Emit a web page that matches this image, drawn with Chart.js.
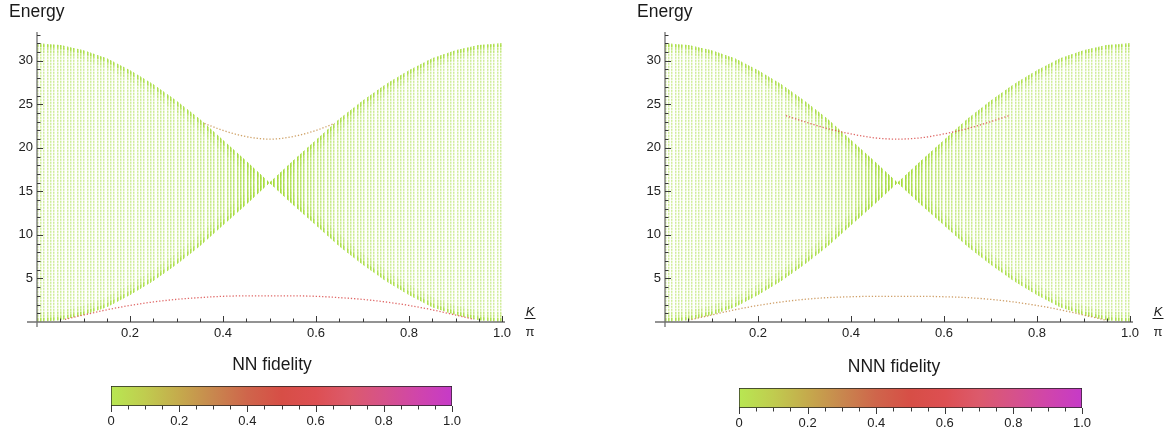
<!DOCTYPE html>
<html>
<head>
<meta charset="utf-8">
<script src="https://cdn.jsdelivr.net/npm/chart.js@4.4.1/dist/chart.umd.min.js"></script>
<style>
    html, body { margin: 0; padding: 0; background: #fff; }
    body { width: 1173px; height: 437px; position: relative; overflow: hidden; }
    .panel { position: absolute; }
</style>
</head>
<body>
<div class="panel" style="left:0;top:0"><canvas id="nn-spectrum" width="560" height="350"></canvas></div>
<div class="panel" style="left:628px;top:0"><canvas id="nnn-spectrum" width="545" height="350"></canvas></div>
<div class="panel" style="left:90px;top:350px"><canvas id="nn-scale" width="400" height="87"></canvas></div>
<div class="panel" style="left:718px;top:352px"><canvas id="nnn-scale" width="400" height="87"></canvas></div>
<script>
// Two-magnon spectrum: scattering continuum plus bound-state branches, E vs K/pi.
const kGrid = [0, 0.05, 0.1, 0.15, 0.2, 0.25, 0.3, 0.35, 0.4, 0.45, 0.5,
    0.55, 0.6, 0.65, 0.7, 0.75, 0.8, 0.85, 0.9, 0.95, 1];
const bandTop = [32, 31.8, 31.2, 30.3, 28.9, 27.3, 25.4, 23.3, 20.9, 18.5, 16,
    18.5, 20.9, 23.3, 25.4, 27.3, 28.9, 30.3, 31.2, 31.8, 32];
const bandBottom = [0, 0.2, 0.8, 1.7, 3.1, 4.7, 6.6, 8.7, 11.1, 13.5, 16,
    13.5, 11.1, 8.7, 6.6, 4.7, 3.1, 1.7, 0.8, 0.2, 0];

// bound states, nearest-neighbour model
const nnUpperK = [0.36, 0.4, 0.44, 0.48, 0.5, 0.52, 0.56, 0.6, 0.64];
const nnUpperE = [22.8, 22.0, 21.4, 21.05, 21.0, 21.05, 21.4, 22.0, 22.8];
const nnLowerK = [0.06, 0.1, 0.15, 0.2, 0.25, 0.3, 0.35, 0.4, 0.45, 0.5,
    0.55, 0.6, 0.65, 0.7, 0.75, 0.8, 0.85, 0.9, 0.94];
const nnLowerE = [0.3, 0.8, 1.4, 1.9, 2.3, 2.6, 2.8, 2.95, 3.0, 3.0,
    3.0, 2.95, 2.8, 2.6, 2.3, 1.9, 1.4, 0.8, 0.3];

// bound states, next-nearest-neighbour model
const nnnUpperK = [0.26, 0.3, 0.35, 0.4, 0.45, 0.5, 0.55, 0.6, 0.65, 0.7, 0.74];
const nnnUpperE = [23.7, 23.0, 22.2, 21.6, 21.15, 21.0, 21.15, 21.6, 22.2, 23.0, 23.7];
const nnnLowerK = [0.05, 0.1, 0.15, 0.2, 0.25, 0.3, 0.35, 0.4, 0.45, 0.5,
    0.55, 0.6, 0.65, 0.7, 0.75, 0.8, 0.85, 0.9, 0.95];
const nnnLowerE = [0.2, 0.8, 1.4, 1.9, 2.3, 2.6, 2.8, 2.9, 2.95, 2.95,
    2.95, 2.9, 2.8, 2.6, 2.3, 1.9, 1.4, 0.8, 0.2];

// fidelity carried by each bound-state branch
const nnUpperFidelity = 0.27;
const nnLowerFidelity = 0.56;
const nnnUpperFidelity = 0.54;
const nnnLowerFidelity = 0.28;

const xTickValues = [0.2, 0.4, 0.6, 0.8, 1.0];
const xTickLabels = ['0.2', '0.4', '0.6', '0.8', '1.0'];
const yTickValues = [5, 10, 15, 20, 25, 30];
const yTickLabels = ['5', '10', '15', '20', '25', '30'];
const scaleTickValues = [0, 0.2, 0.4, 0.6, 0.8, 1.0];
const scaleTickLabels = ['0', '0.2', '0.4', '0.6', '0.8', '1.0'];

const fidelityStops = [0, 0.1, 0.2, 0.3, 0.4, 0.5, 0.6, 0.7, 0.8, 0.9, 1];
const fidelityColors = ['#b8e752', '#c0cc4f', '#c5aa4c', '#c8874e', '#cf654b', '#d74e46',
    '#dd4f52', '#dc5a6c', '#d6528a', '#d045ab', '#c63ac8'];

const FONT = '"Liberation Sans", Arial, Helvetica, sans-serif';
Chart.defaults.font.family = FONT;
Chart.defaults.color = '#222';
Chart.defaults.animation = false;
Chart.defaults.events = [];
Chart.defaults.plugins.legend.display = false;
Chart.defaults.plugins.tooltip.enabled = false;

function hexRgb(h) {
    return [1, 3, 5].map((i) => parseInt(h.slice(i, i + 2), 16));
}

function colourAt(f, alpha) {
    let i = 0;
    while (i < fidelityStops.length - 2 && f > fidelityStops[i + 1]) i++;
    const t = (f - fidelityStops[i]) / (fidelityStops[i + 1] - fidelityStops[i]);
    const a = hexRgb(fidelityColors[i]);
    const b = hexRgb(fidelityColors[i + 1]);
    const c = a.map((v, j) => Math.round(v + (b[j] - v) * t));
    return `rgba(${c[0]},${c[1]},${c[2]},${alpha})`;
}

function labelFor(v, values, labels) {
    const i = values.findIndex((t) => Math.abs(t - v) < 1e-6);
    return i < 0 ? '' : labels[i];
}

const pts = (ks, es) => ks.map((k, i) => ({ x: k, y: es[i] }));

// vertical K-columns of the continuum, as repeating tiles
function columnTile(rows) {
    const c = document.createElement('canvas');
    c.width = 10;
    c.height = rows.length;
    const g = c.getContext('2d');
    rows.forEach((a, r) => {
        [0, 3, 7].forEach((col) => {
            g.fillStyle = `rgba(164,219,58,${a})`;
            g.fillRect(col, r, 1, 1);
            g.fillStyle = `rgba(164,219,58,${a * 0.45})`;
            g.fillRect(col + 1, r, 1, 1);
        });
    });
    return g.createPattern(c, 'repeat');
}
const interiorFill = columnTile([0.45, 0.35, 0.06]);
const columnFill = columnTile([1]);

function clipToBand(ctx, top, bottom, a) {
    ctx.beginPath();
    top.path(ctx);
    ctx.lineTo(a.right + 1, a.bottom + 20);
    ctx.lineTo(a.left - 1, a.bottom + 20);
    ctx.closePath();
    ctx.clip();
    ctx.beginPath();
    bottom.path(ctx);
    ctx.lineTo(a.right + 1, a.top - 20);
    ctx.lineTo(a.left - 1, a.top - 20);
    ctx.closePath();
    ctx.clip();
}

// denser columns where the continuum is narrow, plus the crowded band edges
const bandShade = {
    id: 'bandShade',
    beforeDatasetsDraw(chart) {
        const { ctx, chartArea: a, scales: { x, y } } = chart;
        const top = chart.getDatasetMeta(2).dataset;
        const bottom = chart.getDatasetMeta(3).dataset;

        const off = document.createElement('canvas');
        off.width = chart.width;
        off.height = chart.height;
        const o = off.getContext('2d');
        o.fillStyle = columnFill;
        o.fillRect(0, 0, off.width, off.height);
        const grad = o.createLinearGradient(a.left, 0, a.right, 0);
        kGrid.forEach((k, i) => {
            const h = Math.max(1, y.getPixelForValue(bandBottom[i]) - y.getPixelForValue(bandTop[i]));
            const alpha = Math.min(0.8, 30 / h);
            grad.addColorStop((x.getPixelForValue(k) - a.left) / (a.right - a.left), `rgba(0,0,0,${alpha})`);
        });
        o.globalCompositeOperation = 'destination-in';
        o.fillStyle = grad;
        o.fillRect(0, 0, off.width, off.height);

        ctx.save();
        clipToBand(ctx, top, bottom, a);
        ctx.drawImage(off, 0, 0);
        ctx.strokeStyle = columnFill;
        ctx.lineJoin = 'round';
        [[18, 0.3], [7, 0.7]].forEach(([w, al]) => {
            ctx.globalAlpha = al;
            ctx.lineWidth = w;
            ctx.beginPath();
            top.path(ctx);
            ctx.stroke();
            ctx.beginPath();
            bottom.path(ctx);
            ctx.stroke();
        });
        ctx.restore();
    },
};

// axes through the origin with inward ticks, axis captions
const originAxes = {
    id: 'originAxes',
    afterDraw(chart) {
        const { ctx, chartArea: a, scales: { x, y } } = chart;
        const x0 = x.getPixelForValue(0);
        const y0 = y.getPixelForValue(0);
        ctx.save();
        ctx.strokeStyle = '#707070';
        ctx.lineWidth = 1.3;
        ctx.beginPath();
        ctx.moveTo(x0 - 10, y0);
        ctx.lineTo(a.right + 3, y0);
        ctx.moveTo(x0, a.top);
        ctx.lineTo(x0, y0 + 5);
        ctx.stroke();

        ctx.strokeStyle = '#3a3a3a';
        ctx.lineWidth = 1;
        ctx.beginPath();
        for (let i = 1; i <= 20; i++) {
            const px = Math.round(x.getPixelForValue(i * 0.05)) + 0.5;
            const len = i % 4 === 0 ? 6 : 3.5;
            ctx.moveTo(px, y0);
            ctx.lineTo(px, y0 - len);
        }
        for (let v = 1; v <= 33; v++) {
            const py = Math.round(y.getPixelForValue(v)) + 0.5;
            const len = v % 5 === 0 ? 6 : 3.5;
            ctx.moveTo(x0, py);
            ctx.lineTo(x0 + len, py);
        }
        ctx.stroke();

        ctx.fillStyle = '#1a1a1a';
        ctx.textBaseline = 'middle';
        ctx.textAlign = 'left';
        ctx.font = `17.5px ${FONT}`;
        ctx.fillText('Energy', x0 - 28, 12);

        const fx = a.right + 28;
        ctx.textAlign = 'center';
        ctx.font = `italic 13px ${FONT}`;
        ctx.fillText('K', fx, y0 - 10);
        ctx.font = `13px ${FONT}`;
        ctx.fillText('\u03c0', fx, y0 + 10);
        ctx.strokeStyle = '#1a1a1a';
        ctx.beginPath();
        ctx.moveTo(fx - 5.5, y0 - 3.5);
        ctx.lineTo(fx + 5.5, y0 - 3.5);
        ctx.stroke();
        ctx.restore();
    },
};

function boundState(ks, es, fidelity) {
    return {
        data: pts(ks, es),
        showLine: true,
        pointRadius: 0,
        borderColor: colourAt(fidelity, 0.85),
        borderWidth: 1.3,
        borderDash: [1.3, 1.9],
        cubicInterpolationMode: 'monotone',
        fill: false,
    };
}

function spectrumChart(id, upper, lower, rightPad) {
    return new Chart(document.getElementById(id), {
        type: 'scatter',
        data: {
            datasets: [
                upper,
                lower,
                {
                    data: pts(kGrid, bandTop), showLine: true, pointRadius: 0,
                    borderWidth: 0, borderColor: 'transparent',
                    backgroundColor: interiorFill, fill: '+1',
                },
                {
                    data: pts(kGrid, bandBottom), showLine: true, pointRadius: 0,
                    borderWidth: 0, borderColor: 'transparent', fill: false,
                },
            ],
        },
        options: {
            responsive: false,
            layout: { padding: { left: 0, top: 32, right: rightPad, bottom: 0 } },
            scales: {
                x: {
                    type: 'linear', min: 0, max: 1,
                    afterFit: (s) => { s.height = 28; },
                    grid: { display: false, drawTicks: false },
                    border: { display: false },
                    ticks: {
                        stepSize: 0.2, padding: 4, maxRotation: 0, autoSkip: false,
                        font: { size: 13 }, color: '#222',
                        callback: (v) => labelFor(v, xTickValues, xTickLabels),
                    },
                },
                y: {
                    type: 'linear', min: 0, max: 33.3,
                    afterFit: (s) => { s.width = 37; },
                    grid: { display: false, drawTicks: false },
                    border: { display: false },
                    ticks: {
                        stepSize: 5, includeBounds: false, padding: 4,
                        font: { size: 13 }, color: '#222',
                        callback: (v) => labelFor(v, yTickValues, yTickLabels),
                    },
                },
            },
        },
        plugins: [bandShade, originAxes],
    });
}

// colour legend: gradient strip with ticks below and its caption above
function scaleChart(id, caption, captionX, rightPad) {
    const captionPlugin = {
        id: 'caption',
        afterDraw(chart) {
            const { ctx, chartArea: a, scales: { x } } = chart;
            ctx.save();
            ctx.strokeStyle = '#3a3a3a';
            ctx.lineWidth = 1;
            ctx.beginPath();
            for (let i = 0; i <= 20; i++) {
                const px = Math.round(x.getPixelForValue(i * 0.05)) + 0.5;
                const len = i % 4 === 0 ? 6 : 3.5;
                ctx.moveTo(px, a.bottom);
                ctx.lineTo(px, a.bottom + len);
            }
            ctx.stroke();
            ctx.fillStyle = '#1a1a1a';
            ctx.font = `17.5px ${FONT}`;
            ctx.textAlign = 'center';
            ctx.textBaseline = 'middle';
            ctx.fillText(caption, captionX, 15);
            ctx.restore();
        },
    };
    return new Chart(document.getElementById(id), {
        type: 'bar',
        data: {
            labels: [caption],
            datasets: [{
                data: [1],
                backgroundColor(c) {
                    const { chart } = c;
                    if (!chart.chartArea) return null;
                    const x = chart.scales.x;
                    const g = chart.ctx.createLinearGradient(x.getPixelForValue(0), 0, x.getPixelForValue(1), 0);
                    fidelityStops.forEach((s, i) => g.addColorStop(s, fidelityColors[i]));
                    return g;
                },
                borderColor: '#222',
                borderWidth: 1,
                borderSkipped: false,
                barPercentage: 1,
                categoryPercentage: 1,
            }],
        },
        options: {
            indexAxis: 'y',
            responsive: false,
            layout: { padding: { left: 21, top: 36, right: rightPad, bottom: 0 } },
            scales: {
                x: {
                    type: 'linear', min: 0, max: 1,
                    afterFit: (s) => { s.height = 31; },
                    grid: { display: false, drawTicks: false },
                    border: { display: false },
                    ticks: {
                        stepSize: 0.2, padding: 8, maxRotation: 0, autoSkip: false,
                        font: { size: 13 }, color: '#222',
                        callback: (v) => labelFor(v, scaleTickValues, scaleTickLabels),
                    },
                },
                y: { display: false },
            },
        },
        plugins: [captionPlugin],
    });
}

spectrumChart('nn-spectrum',
    boundState(nnUpperK, nnUpperE, nnUpperFidelity),
    boundState(nnLowerK, nnLowerE, nnLowerFidelity), 58);
spectrumChart('nnn-spectrum',
    boundState(nnnUpperK, nnnUpperE, nnnUpperFidelity),
    boundState(nnnLowerK, nnnLowerE, nnnLowerFidelity), 43);
scaleChart('nn-scale', 'NN fidelity', 182, 38);
scaleChart('nnn-scale', 'NNN fidelity', 176, 36);
</script>
</body>
</html>
